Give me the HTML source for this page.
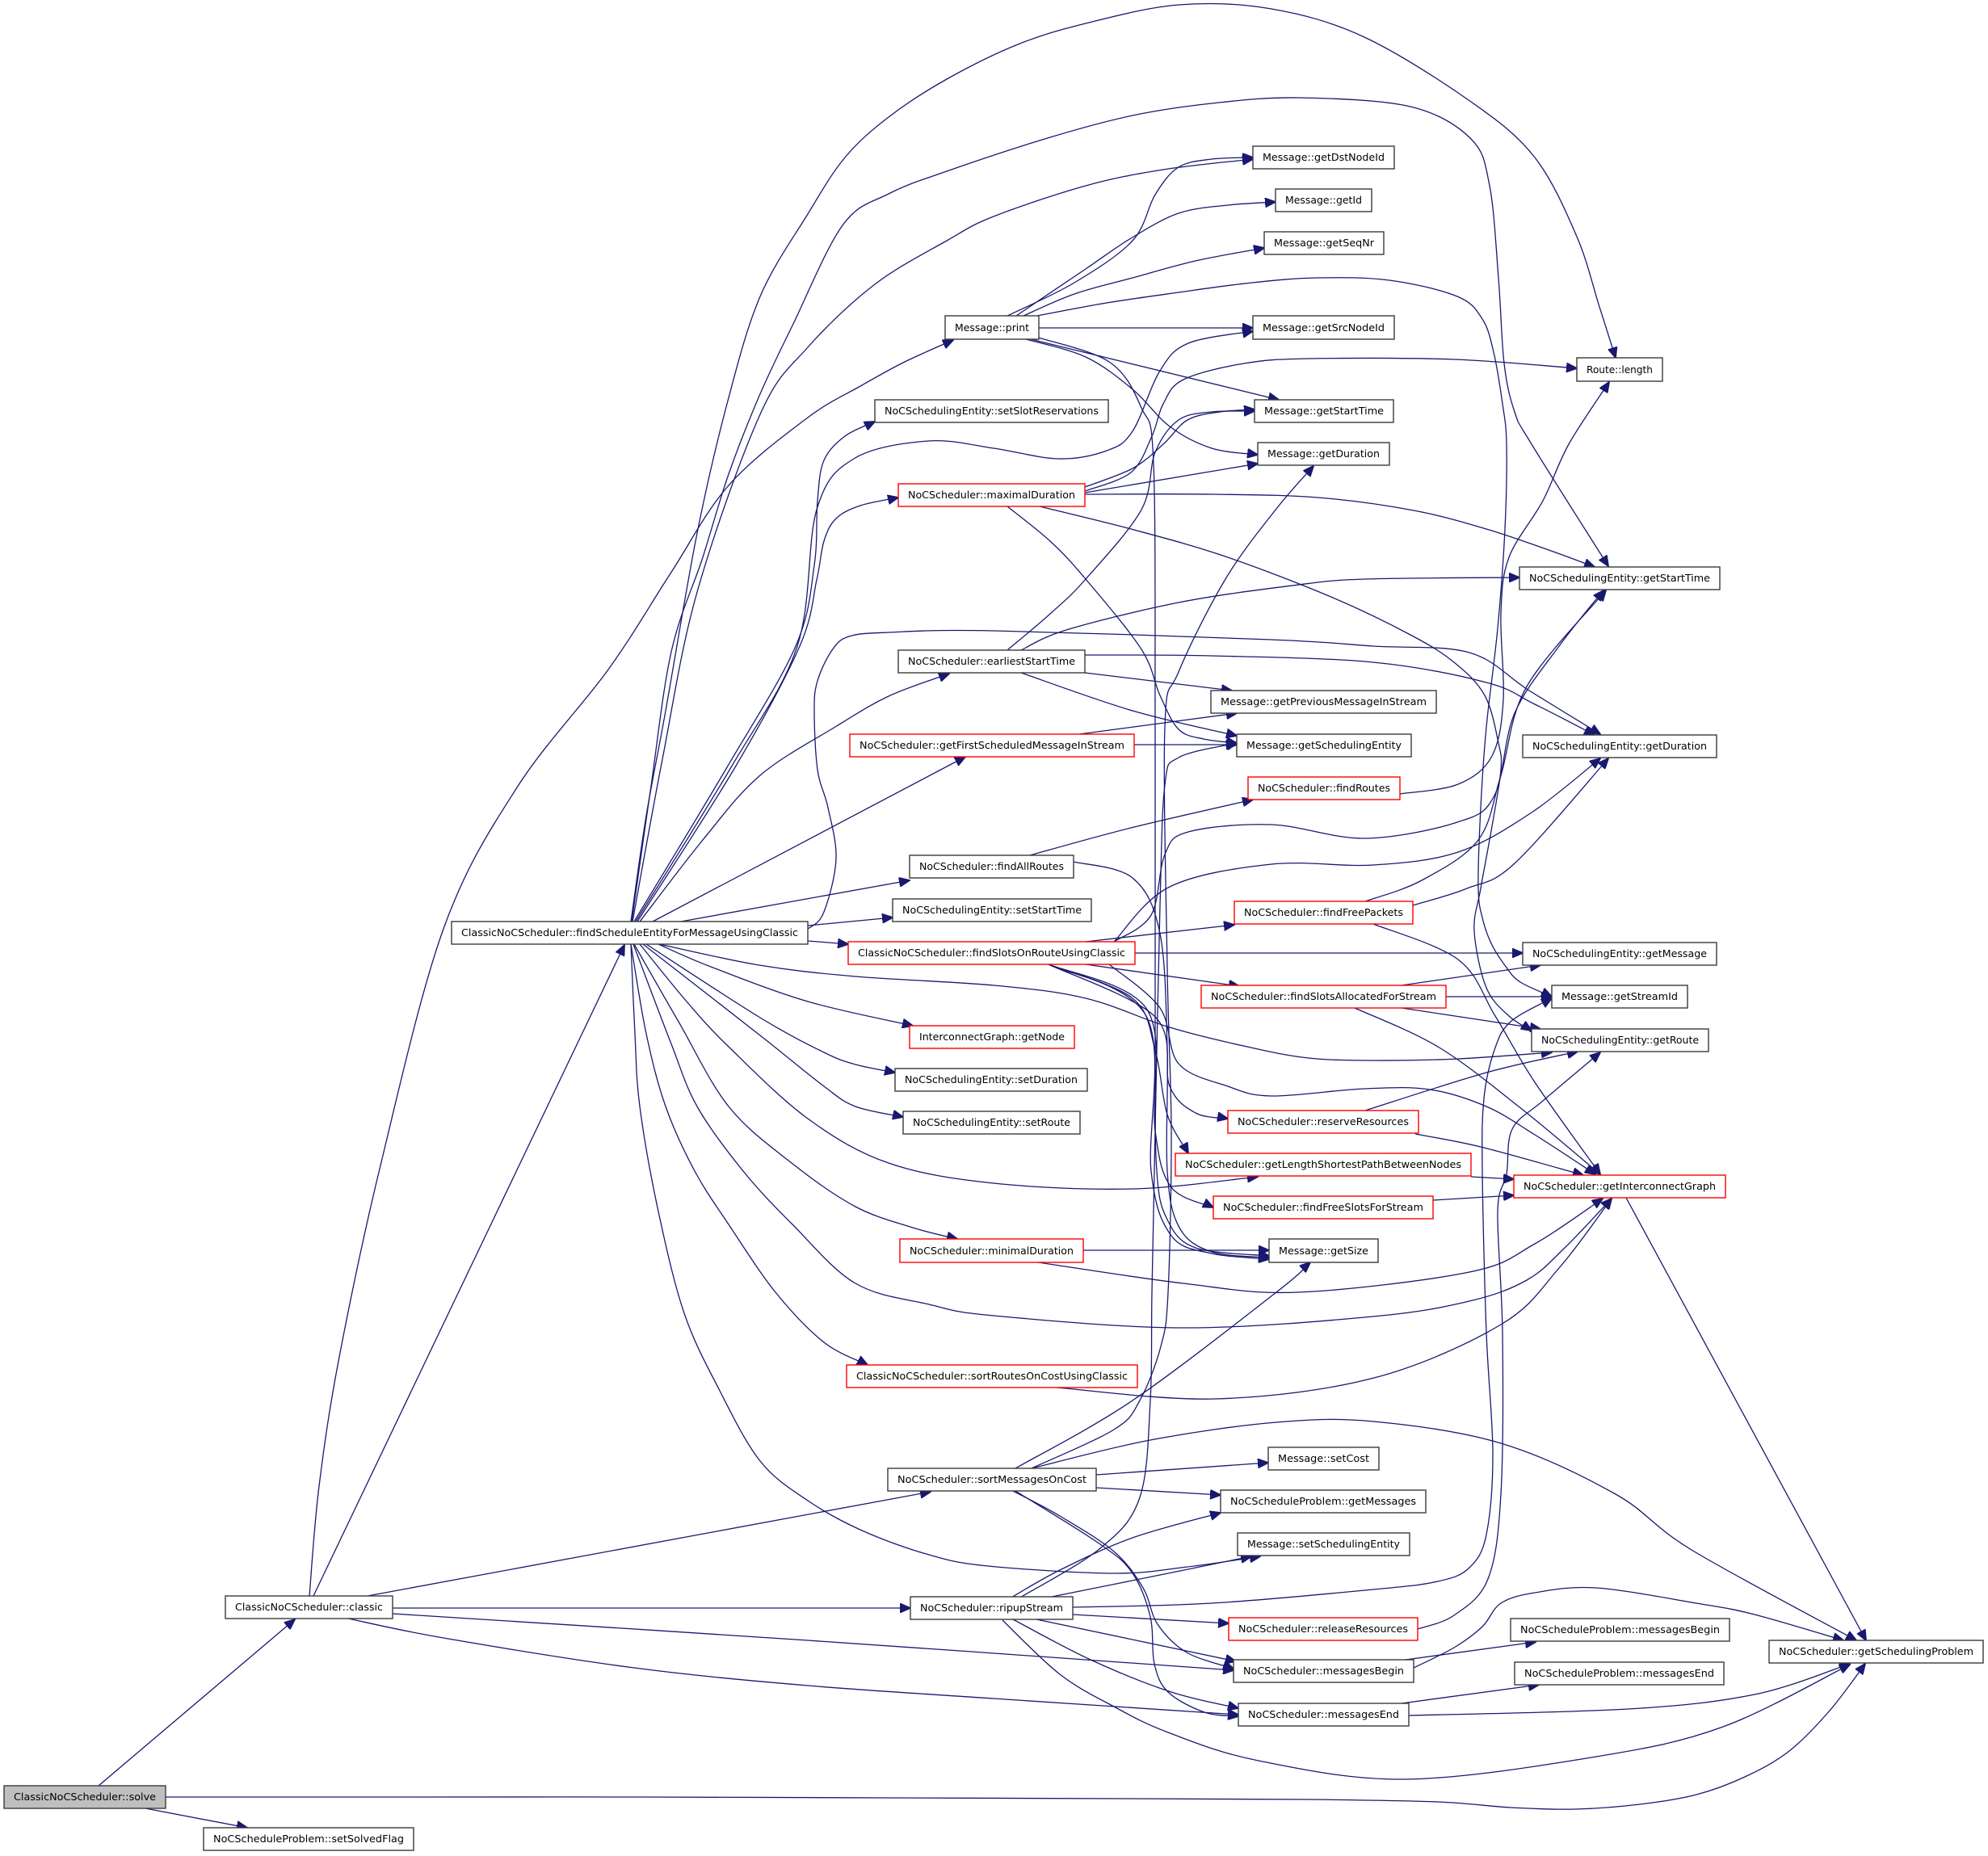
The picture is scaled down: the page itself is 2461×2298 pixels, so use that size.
<!DOCTYPE html>
<html><head><meta charset="utf-8"><style>
html,body{margin:0;padding:0;background:#fff}
svg{display:block}
.e path{fill:none;stroke:#191970;stroke-width:1.3;marker-end:url(#a)}
.n rect{fill:#fff;stroke:#3a3a3a;stroke-width:1.4}
.n rect.r{stroke:#ff0000}
.n rect.g{fill:#bfbfbf}
.n text{font-family:"DejaVu Sans","Liberation Sans",sans-serif;font-size:12.7px;fill:#000;text-anchor:middle}
</style></head><body>
<svg width="2461" height="2298" viewBox="0 0 2461 2298" xmlns="http://www.w3.org/2000/svg">
<defs><marker id="a" markerUnits="userSpaceOnUse" markerWidth="14" markerHeight="12" viewBox="0 0 14 12" refX="13" refY="6" orient="auto"><path d="M0,0L14,6L0,12z" fill="#191970" stroke="#191970" stroke-width="1"/></marker></defs>
<g class="e">
<path d="M122,2211 L365,2005"/>
<path d="M180,2239 L306,2263"/>
<path d="M205,2225 L500,2225 L800,2225 L1100,2226 L1400,2227 L1620,2228 L1780,2231 L1870,2238 L1950,2240 L2030,2234 L2100,2222 L2160,2200 L2215,2168 L2265,2118 L2309,2060"/>
<path d="M388,1976 L773,1170"/>
<path d="M383,1976 L395,1840 L420,1680 L471,1443 L549,1150 L640,975 L753,829 L830,710 L902,601 L1000,517 L1067,477 L1120,448 L1180,421"/>
<path d="M455,1976 L1152,1847"/>
<path d="M486,1991 L1127,1991"/>
<path d="M486,1998 L1000,2031 L1527,2068"/>
<path d="M431,2004 L549,2028 L785,2065 L1000,2087 L1230,2103 L1533,2123"/>
<path d="M781,1141 L800,1010 L824,880 L863,660 L900,500 L941,367 L1000,265 L1046,195 L1100,145 L1172,98 L1260,55 L1344,29 L1459,6 L1574,11 L1689,46 L1821,126 L1900,195 L1952,293 L1980,380 L2000,443"/>
<path d="M782,1141 L805,980 L831,807 L870,690 L902,587 L940,490 L981,403 L1043,279 L1100,240 L1172,212 L1300,170 L1402,143 L1500,128 L1608,121 L1746,132 L1821,172 L1844,230 L1855,344 L1862,450 L1875,510 L1896,550 L1991,701"/>
<path d="M783,1141 L820,940 L863,733 L941,513 L1000,430 L1083,352 L1172,298 L1230,268 L1344,230 L1440,210 L1551,197"/>
<path d="M785,1141 L900,950 L985,800 L1008,700 L1012,620 L1020,570 L1046,540 L1083,522"/>
<path d="M787,1141 L905,950 L987,800 L1011,631 L1057,568 L1149,546 L1230,555 L1310,568 L1370,558 L1402,534 L1436,459 L1471,425 L1551,410"/>
<path d="M789,1141 L910,950 L990,800 L1011,718 L1020,670 L1035,642 L1065,626 L1112,616"/>
<path d="M792,1141 L870,1040 L941,960 L1034,900 L1100,862 L1175,834"/>
<path d="M808,1141 L1195,937"/>
<path d="M843,1141 L1126,1090"/>
<path d="M1000,1146 L1105,1136"/>
<path d="M1000,1165 L1050,1169"/>
<path d="M816,1169 L940,1195 L1059,1209 L1230,1220 L1344,1236 L1448,1272 L1544,1296 L1620,1310 L1701,1313 L1805,1311 L1921,1303"/>
<path d="M815,1169 L880,1197 L1000,1240 L1130,1270"/>
<path d="M800,1169 L941,1260 L1020,1303 L1059,1318 L1108,1328"/>
<path d="M796,1169 L941,1282 L1020,1345 L1059,1370 L1118,1383"/>
<path d="M792,1169 L850,1240 L902,1296 L1000,1385 L1100,1440 L1230,1465 L1402,1472 L1557,1457"/>
<path d="M785,1169 L840,1265 L902,1370 L980,1440 L1059,1494 L1130,1520 L1185,1534"/>
<path d="M784,1169 L830,1290 L863,1370 L920,1450 L981,1516 L1059,1589 L1150,1615 L1230,1629 L1465,1644 L1700,1630 L1819,1611 L1890,1585 L1937,1545 L1995,1484"/>
<path d="M781,1169 L800,1280 L824,1370 L860,1450 L902,1516 L960,1600 L1020,1662 L1074,1690"/>
<path d="M781,1169 L786,1280 L792,1370 L815,1500 L847,1626 L890,1720 L941,1809 L1000,1858 L1067,1895 L1150,1925 L1223,1939 L1379,1948 L1470,1940 L1560,1927"/>
<path d="M930,1169 L973,1160 L1000,1150 L1020,1129 L1035,1063 L1025,1000 L1012,953 L1008,880 L1012,843 L1030,805 L1051,788 L1100,783 L1230,781 L1574,792 L1700,800 L1819,808 L1893,855 L1981,909"/>
<path d="M1247,391 L1330,350 L1402,298 L1430,241 L1459,207 L1500,197 L1551,195"/>
<path d="M1258,391 L1344,333 L1400,295 L1459,264 L1520,254 L1579,250"/>
<path d="M1267,391 L1330,364 L1402,344 L1480,323 L1565,307"/>
<path d="M1284,391 L1370,375 L1459,362 L1550,350 L1631,344 L1720,347 L1804,367 L1835,395 L1849,436 L1860,500 L1865,550 L1863,655 L1854,778 L1840,900 L1833,1000 L1830,1100 L1836,1140 L1847,1170 L1865,1198 L1882,1216 L1921,1234"/>
<path d="M1286,406 L1551,406"/>
<path d="M1276,420 L1583,495"/>
<path d="M1270,420 L1344,442 L1402,482 L1448,528 L1500,555 L1557,563"/>
<path d="M1282,417 L1373,448 L1413,505 L1428,574 L1430,900 L1430,1300 L1432,1450 L1445,1510 L1480,1545 L1571,1555"/>
<path d="M1343,603 L1402,580 L1440,550 L1470,520 L1510,510 L1553,507"/>
<path d="M1343,610 L1557,574"/>
<path d="M1343,608 L1400,585 L1426,540 L1440,500 L1465,470 L1540,450 L1622,444 L1800,445 L1952,456"/>
<path d="M1343,612 L1500,612 L1631,616 L1750,632 L1840,655 L1920,682 L1974,702"/>
<path d="M1247,627 L1300,670 L1344,717 L1413,804 L1436,861 L1459,903 L1490,915 L1531,920"/>
<path d="M1287,627 L1400,655 L1517,689 L1650,740 L1746,786 L1800,820 L1838,861 L1855,920 L1858,953 L1847,1023 L1833,1100 L1825,1153 L1840,1223 L1868,1258 L1896,1276"/>
<path d="M1247,805 L1300,760 L1344,717 L1413,631 L1430,560 L1459,520 L1500,510 L1553,509"/>
<path d="M1264,805 L1320,780 L1459,746 L1600,725 L1689,717 L1881,715"/>
<path d="M1343,811 L1500,812 L1700,820 L1840,845 L1900,872 L1974,910"/>
<path d="M1343,833 L1525,855"/>
<path d="M1264,833 L1402,880 L1531,911"/>
<path d="M1336,909 L1531,883"/>
<path d="M1404,922 L1531,922"/>
<path d="M1275,1059 L1400,1025 L1551,990"/>
<path d="M1329,1067 L1402,1087 L1436,1156 L1445,1300 L1445,1450 L1460,1520 L1500,1550 L1571,1557"/>
<path d="M1733,983 L1805,971 L1847,936 L1861,866 L1858,760 L1868,690 L1910,620 L1942,550 L1992,473"/>
<path d="M1405,1180 L1885,1180"/>
<path d="M1344,1166 L1528,1145"/>
<path d="M1344,1194 L1534,1221"/>
<path d="M1379,1166 L1425,1133 L1442,1058 L1471,1030 L1574,1021 L1689,1038 L1804,1018 L1850,985 L1875,883 L1930,800 L1985,731"/>
<path d="M1379,1166 L1448,1098 L1574,1070 L1700,1071 L1805,1055 L1896,1006 L1981,939"/>
<path d="M1373,1194 L1436,1248 L1459,1317 L1520,1345 L1574,1357 L1689,1348 L1770,1349 L1840,1370 L1900,1405 L1975,1454"/>
<path d="M1298,1194 L1402,1236 L1430,1300 L1445,1380 L1471,1428"/>
<path d="M1298,1194 L1430,1259 L1448,1345 L1480,1378 L1520,1385"/>
<path d="M1298,1194 L1420,1250 L1430,1400 L1450,1470 L1502,1495"/>
<path d="M1298,1194 L1420,1260 L1425,1450 L1450,1530 L1500,1552 L1571,1559"/>
<path d="M1690,1116 L1760,1090 L1830,1040 L1858,960 L1890,850 L1988,731"/>
<path d="M1749,1121 L1816,1100 L1875,1069 L1991,939"/>
<path d="M1700,1144 L1805,1188 L1851,1258 L1900,1340 L1981,1454"/>
<path d="M1735,1220 L1907,1195"/>
<path d="M1790,1234 L1921,1234"/>
<path d="M1735,1248 L1907,1274"/>
<path d="M1677,1248 L1780,1296 L1880,1370 L1981,1454"/>
<path d="M1690,1375 L1840,1328 L1953,1302"/>
<path d="M1752,1404 L1833,1420 L1960,1455"/>
<path d="M1821,1457 L1874,1460"/>
<path d="M1774,1486 L1874,1480"/>
<path d="M1341,1548 L1571,1548"/>
<path d="M1285,1563 L1465,1589 L1607,1600 L1819,1575 L1900,1540 L1984,1484"/>
<path d="M1308,1718 L1505,1732 L1701,1706 L1858,1640 L1930,1570 L1995,1484"/>
<path d="M2013,1483 L2310,2031"/>
<path d="M1257,1818 L1402,1734 L1580,1600 L1622,1563"/>
<path d="M1277,1818 L1379,1770 L1411,1734 L1437,1667 L1446,1600 L1450,1400 L1445,1200 L1442,900 L1459,832 L1517,717 L1580,630 L1626,577"/>
<path d="M1277,1818 L1424,1783 L1580,1761 L1700,1760 L1858,1787 L2000,1850 L2094,1919 L2298,2031"/>
<path d="M1357,1826 L1570,1811"/>
<path d="M1357,1842 L1511,1851"/>
<path d="M1254,1846 L1312,1877 L1379,1921 L1415,1966 L1433,2011 L1469,2046 L1527,2066"/>
<path d="M1257,1846 L1362,1912 L1402,1948 L1424,2002 L1429,2060 L1446,2095 L1491,2120 L1533,2125"/>
<path d="M1252,1978 L1312,1944 L1402,1904 L1511,1873"/>
<path d="M1263,1978 L1362,1917 L1411,1854 L1424,1734 L1426,1600 L1430,1400 L1436,1121 L1442,972 L1459,938 L1531,920"/>
<path d="M1297,1978 L1446,1948 L1549,1927"/>
<path d="M1328,1990 L1500,1985 L1700,1968 L1780,1958 L1819,1941 L1840,1900 L1848,1800 L1840,1650 L1835,1450 L1837,1360 L1850,1300 L1870,1265 L1921,1236"/>
<path d="M1328,1999 L1521,2010"/>
<path d="M1283,2005 L1530,2057"/>
<path d="M1254,2005 L1350,2055 L1450,2095 L1533,2115"/>
<path d="M1241,2006 L1312,2073 L1379,2113 L1446,2145 L1558,2180 L1740,2203 L1976,2175 L2133,2138 L2290,2061"/>
<path d="M1755,2017 L1800,2000 L1842,1955 L1858,1850 L1860,1650 L1854,1500 L1865,1454 L1872,1398 L1910,1363 L1981,1303"/>
<path d="M1740,2055 L1901,2033"/>
<path d="M1750,2065 L1800,2040 L1835,2014 L1858,1985 L1900,1972 L1976,1966 L2100,1985 L2172,1999 L2282,2031"/>
<path d="M1735,2109 L1905,2086"/>
<path d="M1744,2124 L2015,2116 L2172,2098 L2290,2060"/>
</g>
<g class="n">
<rect x="1551" y="181" width="175" height="28"/><text x="1638.5" y="199" textLength="151" lengthAdjust="spacingAndGlyphs">Message::getDstNodeId</text>
<rect x="1579" y="234" width="119" height="28"/><text x="1638.5" y="252" textLength="95" lengthAdjust="spacingAndGlyphs">Message::getId</text>
<rect x="1565" y="287" width="148" height="28"/><text x="1639" y="305" textLength="124" lengthAdjust="spacingAndGlyphs">Message::getSeqNr</text>
<rect x="1170" y="391" width="116" height="29"/><text x="1228" y="410" textLength="92" lengthAdjust="spacingAndGlyphs">Message::print</text>
<rect x="1551" y="391" width="175" height="29"/><text x="1638.5" y="410" textLength="151" lengthAdjust="spacingAndGlyphs">Message::getSrcNodeId</text>
<rect x="1952" y="443" width="106" height="29"/><text x="2005" y="462" textLength="82" lengthAdjust="spacingAndGlyphs">Route::length</text>
<rect x="1083" y="495" width="289" height="28"/><text x="1227.5" y="513" textLength="265" lengthAdjust="spacingAndGlyphs">NoCSchedulingEntity::setSlotReservations</text>
<rect x="1553" y="495" width="172" height="28"/><text x="1639" y="513" textLength="148" lengthAdjust="spacingAndGlyphs">Message::getStartTime</text>
<rect x="1557" y="548" width="163" height="28"/><text x="1638.5" y="566" textLength="139" lengthAdjust="spacingAndGlyphs">Message::getDuration</text>
<rect class="r" x="1112" y="599" width="231" height="28"/><text x="1227.5" y="617" textLength="207" lengthAdjust="spacingAndGlyphs">NoCScheduler::maximalDuration</text>
<rect x="1881" y="702" width="248" height="28"/><text x="2005" y="720" textLength="224" lengthAdjust="spacingAndGlyphs">NoCSchedulingEntity::getStartTime</text>
<rect x="1112" y="805" width="231" height="28"/><text x="1227.5" y="823" textLength="207" lengthAdjust="spacingAndGlyphs">NoCScheduler::earliestStartTime</text>
<rect x="1499" y="855" width="279" height="28"/><text x="1638.5" y="873" textLength="255" lengthAdjust="spacingAndGlyphs">Message::getPreviousMessageInStream</text>
<rect class="r" x="1052" y="909" width="352" height="28"/><text x="1228" y="927" textLength="328" lengthAdjust="spacingAndGlyphs">NoCScheduler::getFirstScheduledMessageInStream</text>
<rect x="1531" y="909" width="216" height="28"/><text x="1639" y="927" textLength="192" lengthAdjust="spacingAndGlyphs">Message::getSchedulingEntity</text>
<rect x="1885" y="910" width="240" height="28"/><text x="2005" y="928" textLength="216" lengthAdjust="spacingAndGlyphs">NoCSchedulingEntity::getDuration</text>
<rect class="r" x="1545" y="962" width="188" height="28"/><text x="1639" y="980" textLength="164" lengthAdjust="spacingAndGlyphs">NoCScheduler::findRoutes</text>
<rect x="1126" y="1059" width="203" height="28"/><text x="1227.5" y="1077" textLength="179" lengthAdjust="spacingAndGlyphs">NoCScheduler::findAllRoutes</text>
<rect x="1105" y="1113" width="246" height="28"/><text x="1228" y="1131" textLength="222" lengthAdjust="spacingAndGlyphs">NoCSchedulingEntity::setStartTime</text>
<rect class="r" x="1528" y="1116" width="221" height="28"/><text x="1638.5" y="1134" textLength="197" lengthAdjust="spacingAndGlyphs">NoCScheduler::findFreePackets</text>
<rect x="559" y="1141" width="441" height="28"/><text x="779.5" y="1159" textLength="417" lengthAdjust="spacingAndGlyphs">ClassicNoCScheduler::findScheduleEntityForMessageUsingClassic</text>
<rect class="r" x="1050" y="1166" width="355" height="28"/><text x="1227.5" y="1184" textLength="331" lengthAdjust="spacingAndGlyphs">ClassicNoCScheduler::findSlotsOnRouteUsingClassic</text>
<rect x="1885" y="1167" width="240" height="28"/><text x="2005" y="1185" textLength="216" lengthAdjust="spacingAndGlyphs">NoCSchedulingEntity::getMessage</text>
<rect class="r" x="1487" y="1220" width="303" height="28"/><text x="1638.5" y="1238" textLength="279" lengthAdjust="spacingAndGlyphs">NoCScheduler::findSlotsAllocatedForStream</text>
<rect x="1921" y="1220" width="168" height="28"/><text x="2005" y="1238" textLength="144" lengthAdjust="spacingAndGlyphs">Message::getStreamId</text>
<rect x="1896" y="1274" width="219" height="28"/><text x="2005.5" y="1292" textLength="195" lengthAdjust="spacingAndGlyphs">NoCSchedulingEntity::getRoute</text>
<rect class="r" x="1126" y="1270" width="204" height="28"/><text x="1228" y="1288" textLength="180" lengthAdjust="spacingAndGlyphs">InterconnectGraph::getNode</text>
<rect x="1108" y="1323" width="238" height="28"/><text x="1227" y="1341" textLength="214" lengthAdjust="spacingAndGlyphs">NoCSchedulingEntity::setDuration</text>
<rect x="1118" y="1376" width="219" height="28"/><text x="1227.5" y="1394" textLength="195" lengthAdjust="spacingAndGlyphs">NoCSchedulingEntity::setRoute</text>
<rect class="r" x="1520" y="1375" width="236" height="28"/><text x="1638" y="1393" textLength="212" lengthAdjust="spacingAndGlyphs">NoCScheduler::reserveResources</text>
<rect class="r" x="1455" y="1428" width="366" height="28"/><text x="1638" y="1446" textLength="342" lengthAdjust="spacingAndGlyphs">NoCScheduler::getLengthShortestPathBetweenNodes</text>
<rect class="r" x="1874" y="1455" width="262" height="28"/><text x="2005" y="1473" textLength="238" lengthAdjust="spacingAndGlyphs">NoCScheduler::getInterconnectGraph</text>
<rect class="r" x="1502" y="1481" width="272" height="28"/><text x="1638" y="1499" textLength="248" lengthAdjust="spacingAndGlyphs">NoCScheduler::findFreeSlotsForStream</text>
<rect class="r" x="1114" y="1534" width="227" height="29"/><text x="1227.5" y="1553" textLength="203" lengthAdjust="spacingAndGlyphs">NoCScheduler::minimalDuration</text>
<rect x="1571" y="1534" width="135" height="29"/><text x="1638.5" y="1553" textLength="111" lengthAdjust="spacingAndGlyphs">Message::getSize</text>
<rect class="r" x="1048" y="1690" width="360" height="28"/><text x="1228" y="1708" textLength="336" lengthAdjust="spacingAndGlyphs">ClassicNoCScheduler::sortRoutesOnCostUsingClassic</text>
<rect x="1570" y="1792" width="137" height="28"/><text x="1638.5" y="1810" textLength="113" lengthAdjust="spacingAndGlyphs">Message::setCost</text>
<rect x="1099" y="1818" width="258" height="28"/><text x="1228" y="1836" textLength="234" lengthAdjust="spacingAndGlyphs">NoCScheduler::sortMessagesOnCost</text>
<rect x="1511" y="1845" width="254" height="28"/><text x="1638" y="1863" textLength="230" lengthAdjust="spacingAndGlyphs">NoCScheduleProblem::getMessages</text>
<rect x="1532" y="1898" width="213" height="28"/><text x="1638.5" y="1916" textLength="189" lengthAdjust="spacingAndGlyphs">Message::setSchedulingEntity</text>
<rect x="279" y="1976" width="207" height="28"/><text x="382.5" y="1994" textLength="183" lengthAdjust="spacingAndGlyphs">ClassicNoCScheduler::classic</text>
<rect x="1127" y="1977" width="201" height="28"/><text x="1227.5" y="1995" textLength="177" lengthAdjust="spacingAndGlyphs">NoCScheduler::ripupStream</text>
<rect class="r" x="1521" y="2003" width="234" height="28"/><text x="1638" y="2021" textLength="210" lengthAdjust="spacingAndGlyphs">NoCScheduler::releaseResources</text>
<rect x="1870" y="2004" width="271" height="28"/><text x="2005.5" y="2022" textLength="247" lengthAdjust="spacingAndGlyphs">NoCScheduleProblem::messagesBegin</text>
<rect x="2190" y="2031" width="265" height="28"/><text x="2322.5" y="2049" textLength="241" lengthAdjust="spacingAndGlyphs">NoCScheduler::getSchedulingProblem</text>
<rect x="1527" y="2055" width="223" height="28"/><text x="1638.5" y="2073" textLength="199" lengthAdjust="spacingAndGlyphs">NoCScheduler::messagesBegin</text>
<rect x="1875" y="2058" width="259" height="28"/><text x="2004.5" y="2076" textLength="235" lengthAdjust="spacingAndGlyphs">NoCScheduleProblem::messagesEnd</text>
<rect x="1533" y="2109" width="211" height="28"/><text x="1638.5" y="2127" textLength="187" lengthAdjust="spacingAndGlyphs">NoCScheduler::messagesEnd</text>
<rect class="g" x="5" y="2211" width="200" height="28"/><text x="105" y="2229" textLength="176" lengthAdjust="spacingAndGlyphs">ClassicNoCScheduler::solve</text>
<rect x="252" y="2263" width="260" height="28"/><text x="382" y="2281" textLength="236" lengthAdjust="spacingAndGlyphs">NoCScheduleProblem::setSolvedFlag</text>
</g>
</svg>
<script>
(function(){
var ps=document.querySelectorAll('.e path');
for(var k=0;k<ps.length;k++){
 var p=ps[k];
 var nums=(p.getAttribute('d').match(/-?\d+(\.\d+)?/g)||[]).map(Number);
 var pts=[];for(var i=0;i+1<nums.length;i+=2)pts.push([nums[i],nums[i+1]]);
 if(pts.length<3)continue;
 var d='M'+pts[0][0]+','+pts[0][1];
 for(var j=0;j<pts.length-1;j++){
  var p0=pts[j-1]||pts[j],p1=pts[j],p2=pts[j+1],p3=pts[j+2]||pts[j+1];
  var c1x=p1[0]+(p2[0]-p0[0])/6,c1y=p1[1]+(p2[1]-p0[1])/6;
  var c2x=p2[0]-(p3[0]-p1[0])/6,c2y=p2[1]-(p3[1]-p1[1])/6;
  d+=' C'+c1x.toFixed(1)+','+c1y.toFixed(1)+' '+c2x.toFixed(1)+','+c2y.toFixed(1)+' '+p2[0]+','+p2[1];
 }
 p.setAttribute('d',d);
}
})();
</script>
</body></html>
